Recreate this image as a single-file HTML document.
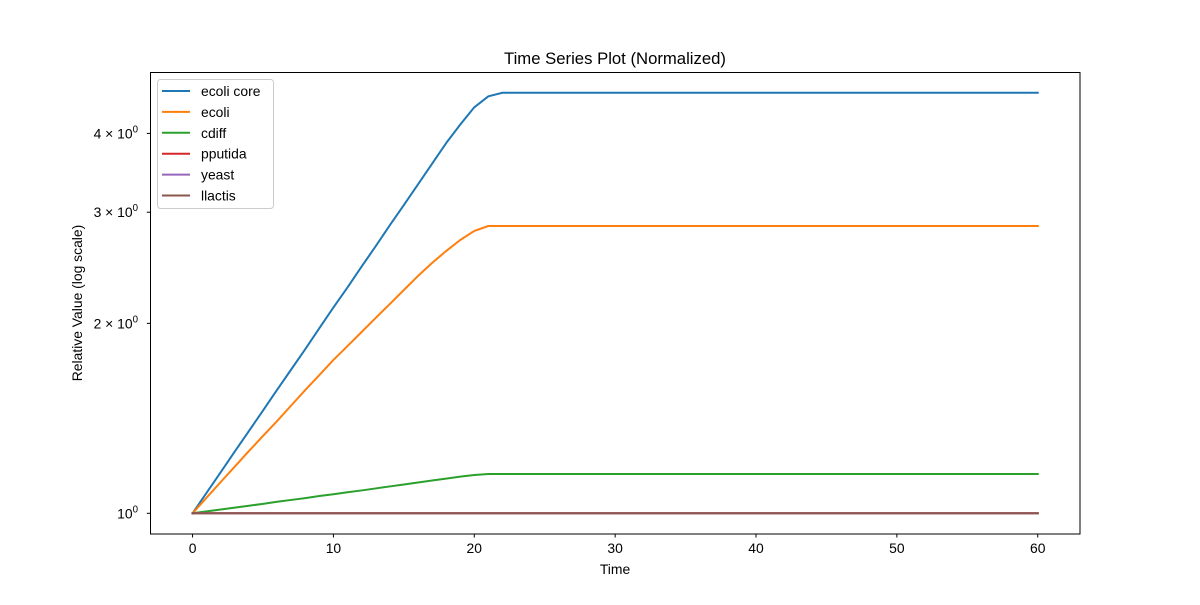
<!DOCTYPE html>
<html><head><meta charset="utf-8"><style>
body{margin:0;background:#fff}
svg{font-family:"Liberation Sans","DejaVu Sans",sans-serif}
</style></head><body>
<svg id="chart" width="1200" height="600" xmlns="http://www.w3.org/2000/svg">
<rect width="1200" height="600" fill="#fff"/>
<text x="615" y="64" font-size="16.7" text-anchor="middle" fill="#000">Time Series Plot (Normalized)</text>
<text x="615" y="574" font-size="13.9" text-anchor="middle">Time</text>
<text transform="translate(82,303) rotate(-90)" font-size="13.9" text-anchor="middle">Relative Value (log scale)</text>
<g id="plot"></g>
<rect x="150.5" y="72.5" width="929.5" height="461.5" fill="none" stroke="#000" stroke-width="1"/>
<g id="legend"></g>
</svg>
<script>
const times = [0,1,2,3,4,5,6,7,8,9,10,11,12,13,14,15,16,17,18,19,20,21,22,60];
const seriesNames = ["ecoli core","ecoli","cdiff","pputida","yeast","llactis"];
const ecoliCore = [1.000,1.078,1.162,1.253,1.350,1.455,1.569,1.690,1.820,1.965,2.120,2.280,2.460,2.650,2.860,3.080,3.320,3.580,3.860,4.130,4.400,4.580,4.640,4.640];
const ecoli = [1.000,1.059,1.121,1.186,1.255,1.326,1.400,1.482,1.568,1.656,1.750,1.841,1.938,2.040,2.146,2.259,2.377,2.493,2.604,2.711,2.802,2.853,2.853,2.853];
const cdiff = [1.000,1.007,1.014,1.021,1.028,1.035,1.043,1.050,1.057,1.065,1.072,1.080,1.087,1.095,1.103,1.111,1.119,1.127,1.135,1.143,1.150,1.154,1.154,1.154];
const pputida = [1,1,1,1,1,1,1,1,1,1,1,1,1,1,1,1,1,1,1,1,1,1,1,1];
const yeast = [1,1,1,1,1,1,1,1,1,1,1,1,1,1,1,1,1,1,1,1,1,1,1,1];
const llactis = [1,1,1,1,1,1,1,1,1,1,1,1,1,1,1,1,1,1,1,1,1,1,1,1];
const xTicks = [0,10,20,30,40,50,60];
const yTicks = [1,2,3,4];
const yTickLabels = ["10","2 \u00d7 10","3 \u00d7 10","4 \u00d7 10"];

const colors = ["#1f77b4","#ff7f0e","#2ca02c","#d62728","#9467bd","#8c564b"];
const allSeries = [ecoliCore,ecoli,cdiff,pputida,yeast,llactis];
const NS="http://www.w3.org/2000/svg";
function xs(t){return 150.3+(t+3)*(929.7/66);}
function ys(v){return 513.3-631*Math.log10(v);}
const plot=document.getElementById('plot');
function mk(tag,attrs,parent){const e=document.createElementNS(NS,tag);for(const k in attrs)e.setAttribute(k,attrs[k]);parent.appendChild(e);return e;}

xTicks.forEach(t=>{
  const l=mk('line',{x1:xs(t),x2:xs(t),y1:534,y2:537.5,stroke:'#000'},plot);
  
  
  const tx=mk('text',{x:xs(t),y:553,'font-size':13.9,'text-anchor':'middle'},plot);
  tx.textContent=t;
  
  
});
yTicks.forEach((v,i)=>{
  const l=mk('line',{x1:146.8,x2:150.3,y1:ys(v),y2:ys(v),stroke:'#000'},plot);
  
  
  const tx=mk('text',{x:138,y:ys(v)+5,'font-size':13.9,'text-anchor':'end'},plot);
  
  
  const a=document.createElementNS(NS,'tspan');a.textContent=yTickLabels[i];tx.appendChild(a);
  const s=document.createElementNS(NS,'tspan');s.textContent='0';s.setAttribute('font-size','9.7');s.setAttribute('dy','-6');tx.appendChild(s);
});
allSeries.forEach((vals,si)=>{
  const d=vals.map((v,i)=>(i?'L':'M')+xs(times[i]).toFixed(2)+','+ys(v).toFixed(2)).join(' ');
  const p=mk('path',{d:d,fill:'none',stroke:colors[si],'stroke-width':2,'stroke-linejoin':'round','stroke-linecap':'square'},plot);
  
  
});
const lg=document.getElementById('legend');
const box=mk('rect',{x:157.5,y:79.5,width:116,height:129,rx:3,fill:'#fff','fill-opacity':0.8,stroke:'#ccc'},lg);


seriesNames.forEach((n,i)=>{
  const y=91+i*20.9;
  const l=mk('line',{x1:162,x2:190,y1:y,y2:y,stroke:colors[i],'stroke-width':2},lg);
  
  
  const t=mk('text',{x:201,y:y+5,'font-size':13.9},lg);
  t.textContent=n;
  
  
});
</script>
</body></html>
